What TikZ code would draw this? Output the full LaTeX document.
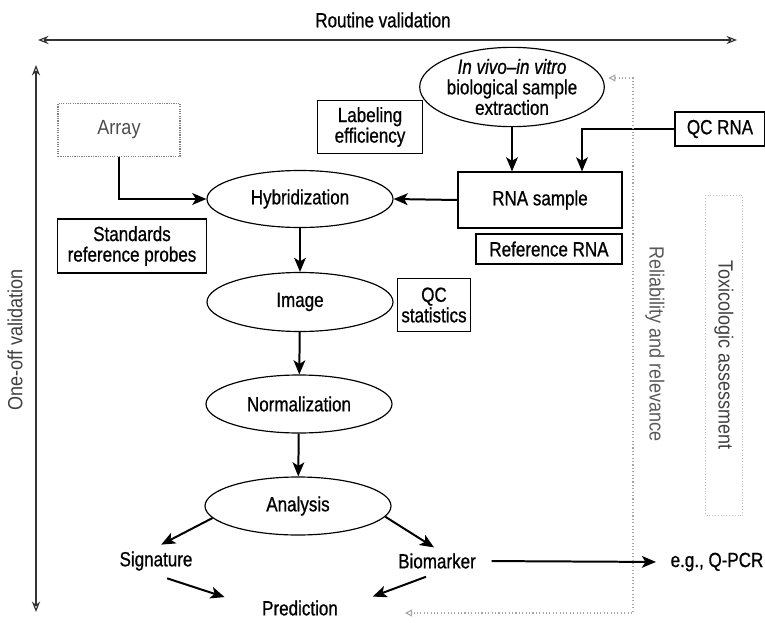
\documentclass[tikz,border=0pt]{standalone}
\usepackage{fontspec}
\setmainfont[FakeStretch=0.83, FakeBold=0.8]{Liberation Sans}
\newfontfamily\lightfont[FakeStretch=0.88]{Liberation Sans}
\usetikzlibrary{arrows.meta, shapes.geometric, calc}

\begin{document}
\begin{tikzpicture}[x=0.03cm, y=-0.03cm, font=\fontsize{17.5}{17.5}\selectfont,
	box/.style={draw, line width=1pt, align=center, inner sep=0pt},
	oval/.style={draw, ellipse, line width=1pt, inner sep=0pt, align=center},
	flow/.style={-{Stealth[length=12pt, width=10pt, inset=3pt]}, line width=1.7pt},
	valid/.style={{Stealth[open, length=9pt, width=7pt]}-{Stealth[open, length=9pt, width=7pt]}, line width=1pt, black!80},
	faint/.style={gray!70, line width=0.9pt, dotted},
	light/.style={font=\lightfont\fontsize{17.5}{17.5}\selectfont}]
	\useasboundingbox (0,0) rectangle (765,622);
	% validation axes
	\node (routine) at (383,20) {Routine validation};
	\coordinate (rvL) at (38,40);
	\coordinate (rvR) at (737,40);
	\draw [valid] (rvL) -- (rvR);
	\node [light, rotate=90, black!75] (oneoff) at (15,340) {One-off validation};
	\coordinate (ovT) at (36,65);
	\coordinate (ovB) at (36,612);
	\draw [valid] (ovT) -- (ovB);
	% inputs
	\node [box, light, draw=gray, densely dotted, text=black!70, minimum width=3.66cm, minimum height=1.59cm] (array) at (119,130) {Array};
	\node [box, minimum width=3.15cm, minimum height=1.59cm] (labeling) at (370,127) {Labeling\\efficiency};
	\node [box, minimum width=4.47cm, minimum height=1.62cm] (standards) at (132,246) {Standards\\reference probes};
	\node [oval, minimum width=4.8cm, minimum height=2.34cm] (invivo) at (512,87) {\textit{In vivo--in vitro}\\biological sample\\extraction};
	\node [box, minimum width=2.7cm, minimum height=1.02cm] (qcrna) at (720,129) {QC RNA};
	\node [box, minimum width=4.92cm, minimum height=1.68cm] (rnasample) at (540,200) {RNA sample};
	\node [box, minimum width=4.38cm, minimum height=0.9cm] (refrna) at (549,249) {Reference RNA};
	% main chain
	\node [oval, minimum width=5.58cm, minimum height=1.71cm] (hybrid) at (300,199) {Hybridization};
	\node [oval, minimum width=5.58cm, minimum height=1.77cm] (image) at (300,302) {Image};
	\node [box, minimum width=2.19cm, minimum height=1.59cm] (qcstats) at (434,305) {QC\\statistics};
	\node [oval, minimum width=5.58cm, minimum height=1.74cm] (normal) at (299,404) {Normalization};
	\node [oval, minimum width=5.58cm, minimum height=1.74cm] (analysis) at (298,506) {Analysis};
	\node (signature) at (156,561) {Signature};
	\node (biomarker) at (437,561) {Biomarker};
	\node (qpcr) at (717,562) {e.g., Q-PCR};
	\node (prediction) at (300,608) {Prediction};
	% arrows
	\draw [flow] (array.south) |- (hybrid.west);
	\draw [flow] (invivo.south) -- (invivo.south |- rnasample.north);
	\draw [flow] (qcrna.west) -| ([xshift=1.26cm]rnasample.north);
	\draw [flow] (rnasample.west) -- (hybrid.east);
	\draw [flow] (hybrid) -- (image);
	\draw [flow] (image) -- (normal);
	\draw [flow] (normal) -- (analysis);
	\draw [flow, shorten >=5pt] (analysis.188) -- (signature.north);
	\draw [flow, shorten >=3pt] (analysis.353) -- (biomarker.north);
	\draw [flow, shorten <=10pt, shorten >=30pt] (signature.south) -- (prediction.west);
	\draw [flow, shorten <=10pt, shorten >=28pt] (biomarker.south) -- (prediction.east);
	\draw [flow, shorten <=10pt, shorten >=9pt] (biomarker.east) -- (qpcr.west);
	% reliability and relevance
	\coordinate (reltop) at (633,78);
	\coordinate (relbot) at (633,613);
	\coordinate (relend) at (405,613);
	\draw [faint, {Triangle[open, length=6pt, width=6pt]}-{Triangle[open, length=6pt, width=6pt]}, shorten <=3pt] (invivo.east |- reltop) -- (reltop) -- (relbot) -- (relend);
	\node [light, rotate=-90, black!65] (reliab) at (655,344) {Reliability and relevance};
	% toxicologic assessment
	\node [light, rotate=-90, black!75, draw=gray!50, dotted, minimum width=9.6cm, minimum height=1.1cm] (toxic) at (724,355) {Toxicologic assessment};
\end{tikzpicture}
\end{document}
